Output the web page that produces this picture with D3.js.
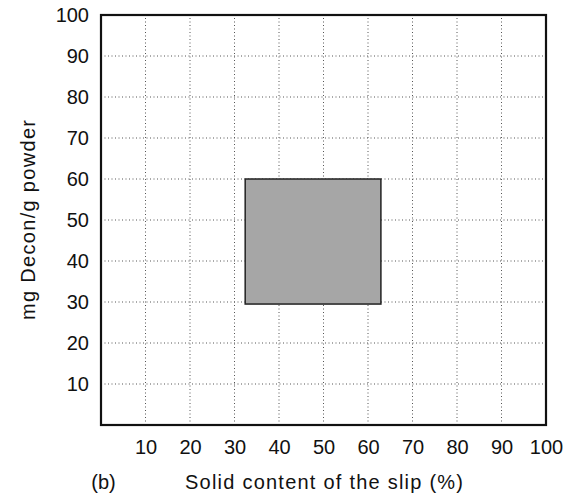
<!DOCTYPE html>
<html>
<head>
<meta charset="utf-8">
<script src="https://cdn.jsdelivr.net/npm/d3@7"></script>
<style>
  body { margin: 0; background: #fff; }
  text { font-family: "Liberation Sans", Arial, sans-serif; fill: #111; }
</style>
</head>
<body>
<script>
// chart values
const xTicks = [10, 20, 30, 40, 50, 60, 70, 80, 90, 100];
const yTicks = [10, 20, 30, 40, 50, 60, 70, 80, 90, 100];
const regionSolid = [32.4, 62.9];   // solid content range (%)
const regionDecon = [29.5, 60];     // mg Decon / g powder range
const xTitle = "Solid content of the slip (%)";
const yTitle = "mg Decon/g powder";
const panelLabel = "(b)";

const W = 566, H = 493;
const MARGIN = {top: 15, right: 20, bottom: 68, left: 101};
const FONT = "20px";

const svg = d3.select("body").append("svg")
    .attr("width", W)
    .attr("height", H);

const x = d3.scaleLinear().domain([0, 100]).range([MARGIN.left, W - MARGIN.right]);
const y = d3.scaleLinear().domain([0, 100]).range([H - MARGIN.bottom, MARGIN.top]);

// dotted grid
const grid = svg.append("g").attr("stroke", "#555").attr("stroke-width", 1)
    .attr("stroke-dasharray", "1,2.5");
grid.selectAll(".vx").data(xTicks.slice(0, -1)).join("line")
    .attr("x1", d => x(d)).attr("x2", d => x(d))
    .attr("y1", y(0)).attr("y2", y(100));
grid.selectAll(".hy").data(yTicks.slice(0, -1)).join("line")
    .attr("x1", x(0)).attr("x2", x(100))
    .attr("y1", d => y(d)).attr("y2", d => y(d));

// shaded region
svg.append("rect")
    .attr("x", x(regionSolid[0]))
    .attr("y", y(regionDecon[1]))
    .attr("width", x(regionSolid[1]) - x(regionSolid[0]))
    .attr("height", y(regionDecon[0]) - y(regionDecon[1]))
    .attr("fill", "#a6a6a6")
    .attr("stroke", "#222")
    .attr("stroke-width", 1.5);

// frame
svg.append("rect")
    .attr("x", x(0)).attr("y", y(100))
    .attr("width", x(100) - x(0)).attr("height", y(0) - y(100))
    .attr("fill", "none").attr("stroke", "#111").attr("stroke-width", 2.2);

// x axis labels
const xAxis = svg.append("g")
    .attr("transform", `translate(0,${y(0)})`)
    .call(d3.axisBottom(x).tickValues(xTicks).tickSize(0).tickPadding(15));
xAxis.select(".domain").remove();
xAxis.selectAll("text").style("font-size", FONT).attr("font-family", null);

// y axis labels
const yAxis = svg.append("g")
    .attr("transform", `translate(${x(0)},0)`)
    .call(d3.axisLeft(y).tickValues(yTicks).tickSize(0).tickPadding(12));
yAxis.select(".domain").remove();
yAxis.selectAll("text").style("font-size", FONT).attr("font-family", null);

// titles
svg.append("text")
    .attr("x", 185).attr("y", 489)
    .attr("textLength", 278)
    .attr("lengthAdjust", "spacing")
    .style("font-size", FONT)
    .text(xTitle);

svg.append("text")
    .attr("x", 103.5).attr("y", 489)
    .attr("text-anchor", "middle")
    .style("font-size", FONT)
    .text(panelLabel);

svg.append("text")
    .attr("transform", `translate(35,320) rotate(-90)`)
    .attr("textLength", 200)
    .attr("lengthAdjust", "spacing")
    .style("font-size", FONT)
    .text(yTitle);
</script>
</body>
</html>
